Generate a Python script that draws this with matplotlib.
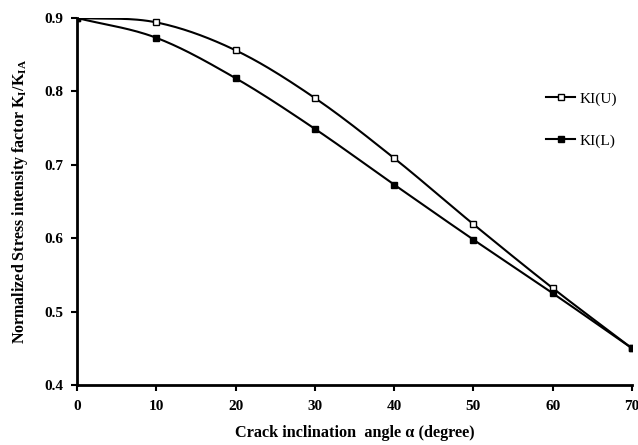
import numpy as np
import matplotlib
matplotlib.use("Agg")
import matplotlib.pyplot as plt

angles = [0, 10, 20, 30, 40, 50, 60, 70]
ki_upper = [0.900, 0.894, 0.856, 0.791, 0.709, 0.619, 0.532, 0.450]
ki_lower = [0.900, 0.873, 0.818, 0.749, 0.673, 0.598, 0.525, 0.450]
series_labels = ["KI(U)", "KI(L)"]
xticks = [0, 10, 20, 30, 40, 50, 60, 70]
yticks = [0.4, 0.5, 0.6, 0.7, 0.8, 0.9]

plt.rcParams['font.family'] = ['Liberation Serif', 'DejaVu Serif']
plt.rcParams['mathtext.fontset'] = 'custom'
plt.rcParams['mathtext.rm'] = 'Liberation Serif:bold'
plt.rcParams['mathtext.it'] = 'Liberation Serif:bold'
plt.rcParams['mathtext.bf'] = 'Liberation Serif:bold'


def smooth(x, y, n=30):
    # Catmull-Rom spline through the points (Excel-like smoothed line)
    x = np.asarray(x, float); y = np.asarray(y, float)
    px = np.concatenate([[2 * x[0] - x[1]], x, [2 * x[-1] - x[-2]]])
    py = np.concatenate([[2 * y[0] - y[1]], y, [2 * y[-1] - y[-2]]])
    xs, ys = [], []
    t = np.linspace(0, 1, n)
    for i in range(1, len(px) - 2):
        for P, out in ((px, xs), (py, ys)):
            p0, p1, p2, p3 = P[i - 1], P[i], P[i + 1], P[i + 2]
            out.extend(0.5 * ((2 * p1) + (-p0 + p2) * t + (2 * p0 - 5 * p1 + 4 * p2 - p3) * t ** 2
                              + (-p0 + 3 * p1 - 3 * p2 + p3) * t ** 3))
    return np.array(xs), np.array(ys)


fig = plt.figure(figsize=(6.38, 4.45), dpi=100)
ax = fig.add_axes([0.1207, 0.1348, 0.8699, 0.8248])

for vals, lab, face in ((ki_upper, series_labels[0], 'white'), (ki_lower, series_labels[1], 'black')):
    sx, sy = smooth(angles, vals)
    ax.plot(sx, sy, color='black', lw=1.5, zorder=2)
    ax.plot(angles, vals, linestyle='none', marker='s', ms=5, mfc=face, mec='black', mew=1, zorder=3)
    ax.plot([], [], color='black', lw=1.5, marker='s', ms=4.5, mfc=face, mec='black', mew=1, label=lab)

ax.set_xlim(0, 70)
ax.set_ylim(0.4, 0.9)
ax.set_xticks(xticks)
ax.set_yticks(yticks)
ax.set_xticklabels([str(v) for v in xticks], fontweight='bold', fontsize=11)
ax.set_yticklabels([f"{v:.1f}" for v in yticks], fontweight='bold', fontsize=11)
ax.tick_params(direction='out', length=4, width=1.5)
ax.tick_params(axis='x', pad=6.5)
ax.tick_params(axis='y', pad=6)
for s in ('top', 'right'):
    ax.spines[s].set_visible(False)
for s in ('left', 'bottom'):
    ax.spines[s].set_linewidth(2)

ax.set_xlabel("Crack inclination  angle α (degree)", fontweight='bold', fontsize=11.7, labelpad=9)
ax.set_ylabel(r"Normalized Stress intensity factor K$_{\mathrm{I}}$/K$_{\mathrm{IA}}$", fontweight='bold', fontsize=11.5, labelpad=10)

ax.legend(loc='upper left', bbox_to_anchor=(0.832, 0.82), frameon=False, fontsize=11,
          labelspacing=1.85, handlelength=1.9, handletextpad=0.3, borderpad=0)

fig.savefig("out.png", dpi=100)
